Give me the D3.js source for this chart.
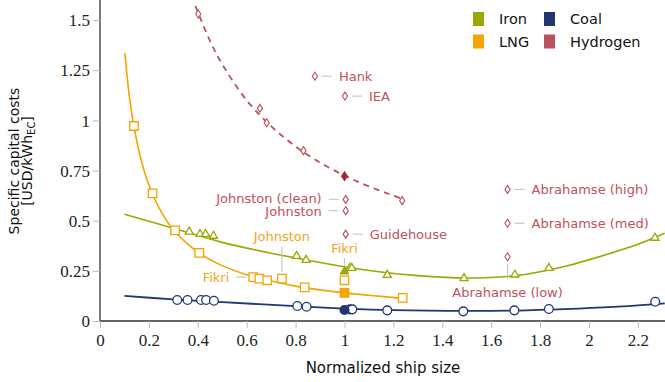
<!DOCTYPE html>
<html>
<head>
<meta charset="utf-8">
<script src="https://cdn.jsdelivr.net/npm/d3@7"></script>
<style>
  body { margin: 0; background: #fff; }
  svg { display: block; }
  .axis-title, .lbl, .legend text { font-family: "DejaVu Sans", sans-serif; }
  .tick-lbl { font-family: "Liberation Serif", serif; font-size: 17px; fill: #222; }
</style>
</head>
<body>
<svg></svg>
<script>
'use strict';

// curve points (trend lines)
const ironCurve = [[0.1, 0.532], [0.3, 0.462], [0.5, 0.392], [0.7, 0.338], [0.9, 0.292], [1.1, 0.252],
  [1.3, 0.226], [1.5, 0.214], [1.7, 0.226], [1.9, 0.272], [2.1, 0.342], [2.2, 0.382], [2.31, 0.437]];
const lngCurve = [[0.102, 1.334], [0.12, 1.12], [0.14, 0.962], [0.17, 0.795], [0.2, 0.678], [0.25, 0.545],
  [0.3, 0.455], [0.4, 0.344], [0.5, 0.276], [0.6, 0.231], [0.7, 0.199], [0.8, 0.174], [0.9, 0.155],
  [1.0, 0.14], [1.1, 0.128], [1.24, 0.113]];
const coalCurve = [[0.1, 0.125], [0.3, 0.108], [0.5, 0.094], [0.8, 0.074], [1.0, 0.062], [1.2, 0.054],
  [1.5, 0.05], [1.7, 0.052], [1.9, 0.059], [2.1, 0.07], [2.31, 0.088]];
const hydrogenCurve = [[0.39, 1.57], [0.45, 1.396], [0.5, 1.28], [0.6, 1.1], [0.7, 0.971], [0.8, 0.87],
  [0.9, 0.79], [1.0, 0.725], [1.1, 0.671], [1.236, 0.609]];

// markers: [x, y, filled]
const ironPoints = [[0.365, 0.445], [0.409, 0.433], [0.432, 0.433], [0.464, 0.424], [0.804, 0.324],
  [0.843, 0.304], [1.022, 0.264], [1.03, 0.264], [1.175, 0.229], [1.489, 0.213], [1.697, 0.231],
  [1.836, 0.264], [2.27, 0.414], [1.0, 0.246, true]];
const lngPoints = [[0.139, 0.972], [0.215, 0.636], [0.307, 0.452], [0.406, 0.34], [0.627, 0.219],
  [0.652, 0.211], [0.684, 0.203], [0.744, 0.211], [0.837, 0.168], [1.0, 0.203], [1.238, 0.115],
  [1.0, 0.14, true]];
const coalPoints = [[0.316, 0.105], [0.358, 0.105], [0.413, 0.105], [0.434, 0.105], [0.466, 0.101],
  [0.807, 0.075], [0.845, 0.071], [1.022, 0.058], [1.032, 0.058], [1.175, 0.053], [1.486, 0.048],
  [1.695, 0.053], [1.836, 0.06], [2.271, 0.096], [1.0, 0.055, true]];
const hydrogenPoints = [[0.402, 1.53], [0.654, 1.06], [0.682, 0.988], [0.832, 0.849], [1.236, 0.6],
  [0.879, 1.22], [1.002, 1.121], [1.005, 0.606], [1.005, 0.55], [1.005, 0.433],
  [1.667, 0.656], [1.667, 0.487], [1.667, 0.32], [1.0, 0.722, true]];

// annotations: text, point, side of the leader
const lngLabels = [["Fikri", 0.627, 0.219, "left"], ["Johnston", 0.744, 0.211, "up"], ["Fikri", 1.0, 0.203, "up"]];
const hydrogenLabels = [["Hank", 0.879, 1.22, "right"], ["IEA", 1.002, 1.121, "right"],
  ["Johnston (clean)", 1.005, 0.606, "left"], ["Johnston", 1.005, 0.55, "left"],
  ["Guidehouse", 1.005, 0.433, "right"], ["Abrahamse (high)", 1.667, 0.656, "right"],
  ["Abrahamse (med)", 1.667, 0.487, "right"], ["Abrahamse (low)", 1.667, 0.32, "down"]];

const xTicks = [0, 0.2, 0.4, 0.6, 0.8, 1, 1.2, 1.4, 1.6, 1.8, 2, 2.2];
const yTicks = [0, 0.25, 0.5, 0.75, 1, 1.25, 1.5];
const legendItems = ["Iron", "LNG", "Coal", "Hydrogen"];

const colors = { Iron: "#9aa800", LNG: "#f5a300", Coal: "#243572", Hydrogen: "#b8525d" };
const hydroDark = "#a3283a";
const labelColors = { LNG: "#f5a520", Hydrogen: "#c0515d" };

const width = 665, height = 382;
const margin = { top: 0, right: 0, bottom: 61, left: 100 };

const svg = d3.select("svg").attr("width", width).attr("height", height);

const x = d3.scaleLinear().domain([0, 2.311]).range([margin.left, width - margin.right]);
const y = d3.scaleLinear().domain([0, 1.6]).range([height - margin.bottom, margin.top]);

// axes
const xAxis = svg.append("g").attr("transform", `translate(0,${y(0)})`)
  .call(d3.axisBottom(x).tickValues(xTicks).tickSize(7).tickFormat(d3.format("~g")));
xAxis.select(".domain").attr("stroke", "#333").attr("stroke-width", 1.3).attr("d", `M${x(0)},0H${width}`);
xAxis.selectAll(".tick line").attr("stroke", "#bbb");
xAxis.selectAll(".tick text").attr("class", "tick-lbl").attr("dy", "0.95em").attr("y", 9);

const yAxis = svg.append("g").attr("transform", `translate(${x(0)},0)`)
  .call(d3.axisLeft(y).tickValues(yTicks).tickSize(7).tickFormat(d3.format("~g")));
yAxis.select(".domain").attr("stroke", "#333").attr("stroke-width", 1.3).attr("d", `M0,${y(0)}V0`);
yAxis.selectAll(".tick line").attr("stroke", "#bbb");
yAxis.selectAll(".tick text").attr("class", "tick-lbl").attr("x", -10).attr("dy", "0.33em");

svg.append("text").attr("class", "axis-title")
  .attr("x", 383).attr("y", 373).attr("text-anchor", "middle")
  .style("font-size", "15px").style("fill", "#111")
  .text("Normalized ship size");

const yt = svg.append("text").attr("class", "axis-title")
  .attr("transform", "translate(18.5,161) rotate(-90)")
  .attr("text-anchor", "middle").style("font-size", "14px").style("fill", "#111");
yt.append("tspan").attr("x", 0).attr("y", 0).text("Specific capital costs");
yt.append("tspan").attr("x", 0).attr("y", 13.5).text("[USD/kWh");
yt.append("tspan").attr("baseline-shift", "-25%").style("font-size", "10px").text("EC");
yt.append("tspan").text("]");

// lines
const line = d3.line().x(d => x(d[0])).y(d => y(d[1])).curve(d3.curveCatmullRom.alpha(0.5));

svg.append("path").datum(coalCurve).attr("d", line)
  .attr("fill", "none").attr("stroke", colors.Coal).attr("stroke-width", 1.8);
svg.append("path").datum(ironCurve).attr("d", line)
  .attr("fill", "none").attr("stroke", colors.Iron).attr("stroke-width", 1.6);
svg.append("path").datum(lngCurve).attr("d", line)
  .attr("fill", "none").attr("stroke", colors.LNG).attr("stroke-width", 1.6);
svg.append("path").datum(hydrogenCurve).attr("d", line)
  .attr("fill", "none").attr("stroke", colors.Hydrogen).attr("stroke-width", 1.8)
  .attr("stroke-dasharray", "6,5");

// leader lines + labels
function annotate(list, color) {
  list.forEach(([text, px, py, side]) => {
    const cx = x(px), cy = y(py);
    const g = svg.append("g");
    const t = g.append("text").attr("class", "lbl").style("font-size", "13px").style("fill", color).text(text);
    if (side === "right") {
      g.append("line").attr("x1", cx + 7).attr("x2", cx + 17).attr("y1", cy).attr("y2", cy);
      t.attr("x", cx + 24).attr("y", cy).attr("dy", "0.36em");
    } else if (side === "left") {
      // the two Johnston labels sit very close, spread them a hair
      const nudge = text === "Johnston (clean)" ? -1 : (text === "Johnston" ? 1 : 0);
      g.append("line").attr("x1", cx - 17).attr("x2", cx - 7).attr("y1", cy).attr("y2", cy);
      t.attr("x", cx - 24).attr("y", cy + nudge).attr("dy", "0.36em").attr("text-anchor", "end");
    } else if (side === "up") {
      const top = text === "Johnston" ? 32 : 22;
      g.append("line").attr("x1", cx).attr("x2", cx).attr("y1", cy - top).attr("y2", cy - 7);
      t.attr("x", cx).attr("y", cy - top - 10).attr("dy", "0.36em").attr("text-anchor", "middle");
    } else {
      g.append("line").attr("x1", cx).attr("x2", cx).attr("y1", cy + 7).attr("y2", cy + 22);
      t.attr("x", cx).attr("y", cy + 36).attr("dy", "0.36em").attr("text-anchor", "middle");
    }
    g.select("line").attr("stroke", "#c8c8c8").attr("stroke-width", 1.2);
  });
}
annotate(lngLabels, labelColors.LNG);
annotate(hydrogenLabels, labelColors.Hydrogen);

// markers
const sym = (type, size) => d3.symbol().type(type).size(size)();

function markers(points, type, size, color) {
  svg.append("g").selectAll("path").data(points).enter().append("path")
    .attr("transform", d => `translate(${x(d[0])},${y(d[1])})`)
    .attr("d", sym(type, size))
    .attr("fill", d => d[2] ? color : "#fff")
    .attr("stroke", color)
    .attr("stroke-width", 1.3);
}
markers(coalPoints, d3.symbolCircle, 60, colors.Coal);
markers(ironPoints, d3.symbolTriangle, 28, colors.Iron);
markers(lngPoints, d3.symbolSquare, 72, colors.LNG);

// hydrogen diamonds, narrow
svg.append("g").selectAll("path").data(hydrogenPoints).enter().append("path")
  .attr("transform", d => `translate(${x(d[0])},${y(d[1])})`)
  .attr("d", "M0,-4L2.6,0L0,4L-2.6,0Z")
  .attr("fill", d => d[2] ? hydroDark : "#fff")
  .attr("stroke", d => d[2] ? hydroDark : colors.Hydrogen)
  .attr("stroke-width", d => d[2] ? 1.6 : 1.1);

// legend
const legend = svg.append("g").attr("class", "legend");
legendItems.forEach((name, i) => {
  const col = Math.floor(i / 2), row = i % 2;
  const lx = 473 + col * 71, ly = 12 + row * 22.5;
  legend.append("rect").attr("x", lx).attr("y", ly).attr("width", 11).attr("height", 14)
    .attr("fill", colors[name]);
  legend.append("text").attr("x", lx + 26).attr("y", ly + 7).attr("dy", "0.36em")
    .style("font-size", "14.5px").style("fill", "#111").text(name);
});
</script>
</body>
</html>
